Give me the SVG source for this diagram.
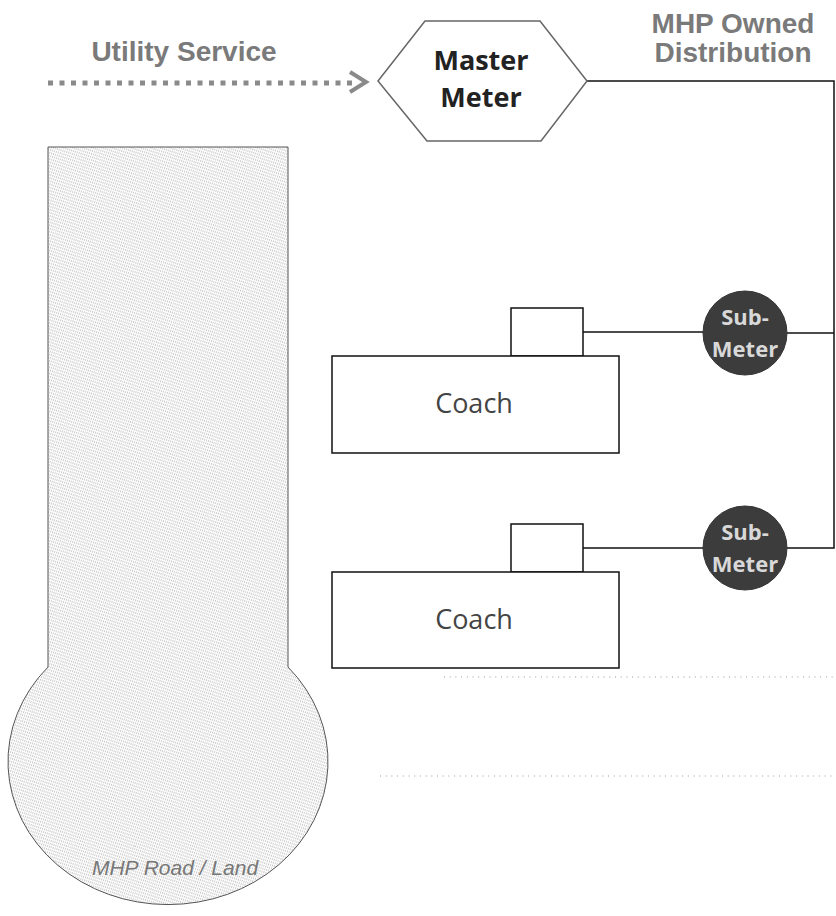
<svg xmlns="http://www.w3.org/2000/svg" width="836" height="916" viewBox="0 0 836 916">
<style>
.lbl{font-family:"Liberation Sans",Arial,sans-serif;font-weight:bold;font-size:28px;fill:#7a7a7a;text-anchor:middle}
.box{fill:#fff;stroke:#111;stroke-width:1.5}
.conn{fill:none;stroke:#111;stroke-width:1.5}
.coach{font-family:"Open Sans",sans-serif;font-size:27px;fill:#444;text-anchor:middle}
.mm{font-family:"Open Sans",sans-serif;font-weight:bold;font-size:27px;fill:#222;text-anchor:middle}
.sm{font-family:"Open Sans",sans-serif;font-weight:bold;font-size:22px;fill:#d8d8d8;text-anchor:middle}
.sub{fill:#3c3c3c;stroke:#333;stroke-width:1}
.dot{fill:none;stroke:#9a9a9a;stroke-width:1;stroke-dasharray:1 4.7}
</style>
<defs>
<pattern id="tex" width="6" height="3" patternUnits="userSpaceOnUse" patternTransform="rotate(18)">
<rect width="6" height="3" fill="#fff"/>
<line x1="0" y1="1" x2="6" y2="1" stroke="#999" stroke-width="1" stroke-dasharray="1 1"/>
</pattern>
</defs>
<g id="road">
<path d="M48,147 H288 V667 A160,143 0 1 1 48,667 Z" fill="url(#tex)" stroke="#555" stroke-width="1"/>
<text x="175" y="875" font-family="Liberation Sans,Arial,sans-serif" font-style="italic" font-size="21" fill="#777" text-anchor="middle">MHP Road / Land</text>
</g>
<g id="utility-label"><text class="lbl" x="184" y="61">Utility Service</text></g>
<g id="distribution-label"><text class="lbl" x="733" y="33">MHP Owned</text><text class="lbl" x="733" y="62">Distribution</text></g>
<g id="connectors">
<line x1="48" y1="83" x2="356" y2="83" stroke="#8a8a8a" stroke-width="5" stroke-dasharray="5 6.5"/>
<polyline points="350,72 366,82 350,92" fill="none" stroke="#8a8a8a" stroke-width="4"/>
<path class="conn" d="M587,81 H834 V548 H787"/>
<path class="conn" d="M787,333 H834"/>
<path class="conn" d="M583,332 H703"/>
<path class="conn" d="M583,548 H703"/>
</g>
<g id="master-meter">
<polygon points="378,81 425,21 540,21 587,81 541,141 427,141" fill="#fff" stroke="#666" stroke-width="1.5"/>
<text class="mm" x="481" y="70">Master</text>
<text class="mm" x="481" y="107">Meter</text>
</g>
<g id="coach1">
<rect class="box" x="511" y="308" width="72" height="48"/>
<rect class="box" x="332" y="356" width="287" height="97"/>
<text class="coach" x="474" y="413">Coach</text>
</g>
<g id="coach2">
<rect class="box" x="511" y="524" width="72" height="48"/>
<rect class="box" x="332" y="572" width="287" height="96"/>
<text class="coach" x="474" y="629">Coach</text>
</g>
<g id="submeter1">
<circle class="sub" cx="745" cy="333" r="42"/>
<text class="sm" x="745" y="325">Sub-</text>
<text class="sm" x="745" y="357">Meter</text>
</g>
<g id="submeter2">
<circle class="sub" cx="745" cy="548" r="42"/>
<text class="sm" x="745" y="540">Sub-</text>
<text class="sm" x="745" y="572">Meter</text>
</g>
<g id="dotted-lines">
<line class="dot" x1="444" y1="677" x2="836" y2="677"/>
<line class="dot" x1="380" y1="776" x2="836" y2="776"/>
</g>
</svg>
